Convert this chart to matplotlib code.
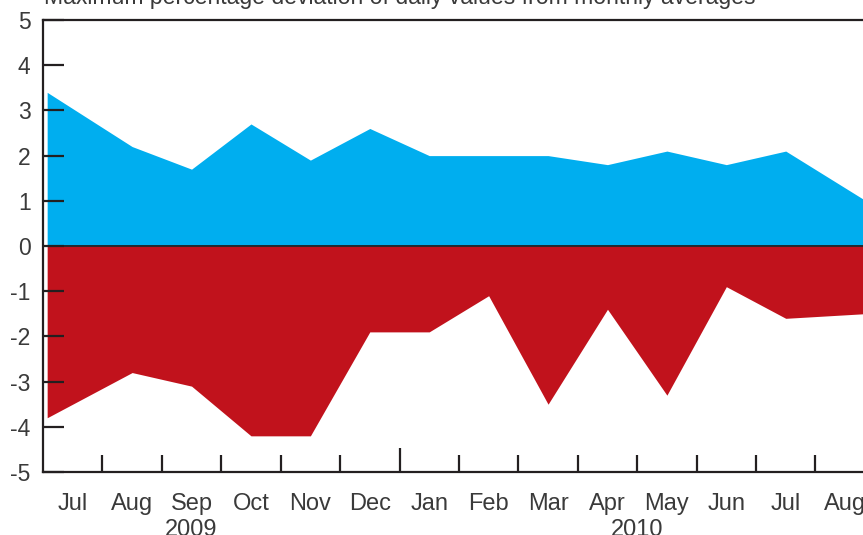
# Maximum percentage deviation of daily values from monthly averages
# area chart, positive deviations in blue, negative in red

import matplotlib.pyplot as plt
import matplotlib.transforms as mtransforms

# month position of each point (0 = start of Jul 2009, points sit mid month)
months_x = [0.07, 1.5, 2.5, 3.5, 4.5, 5.5, 6.5, 7.5, 8.5, 9.5, 10.5, 11.5, 12.5, 13.8]

# maximum upward and downward deviation (%)
upper = [3.4, 2.2, 1.7, 2.7, 1.9, 2.6, 2.0, 2.0, 2.0, 1.8, 2.1, 1.8, 2.1, 1.04]
lower = [-3.8, -2.8, -3.1, -4.2, -4.2, -1.9, -1.9, -1.1, -3.5, -1.4, -3.3, -0.9, -1.6, -1.5]

# axis labels
month_labels = ['Jul', 'Aug', 'Sep', 'Oct', 'Nov', 'Dec', 'Jan',
                'Feb', 'Mar', 'Apr', 'May', 'Jun', 'Jul', 'Aug']
years = ['2009', '2010']
year_x = [2.5, 10.0]
y_ticks = [-5, -4, -3, -2, -1, 0, 1, 2, 3, 4, 5]

plt.rcParams['font.family'] = ['Liberation Sans', 'DejaVu Sans']
text_col = '#3a3a3a'
axis_col = '#231f20'

fig = plt.figure(figsize=(8.63, 5.35), dpi=100)
ax = fig.add_axes([43 / 863, 63 / 535, 820 / 863, 452 / 535])

# the two filled areas
ax.fill_between(months_x, 0, upper, color='#00aeef', linewidth=0)
ax.fill_between(months_x, lower, 0, color='#c1121c', linewidth=0)
ax.axhline(0, color=axis_col, linewidth=1.3)

ax.set_xlim(0, 13.8)
ax.set_ylim(-5, 5)

# frame: left, bottom and top only
ax.spines['right'].set_visible(False)
for s in ['left', 'bottom', 'top']:
    ax.spines[s].set_color(axis_col)
    ax.spines[s].set_linewidth(1.6)

# y axis ticks point inwards
ax.set_yticks(y_ticks)
ax.set_yticklabels([str(v) for v in y_ticks])
ax.tick_params(axis='y', direction='in', length=15, width=1.6, color=axis_col,
               pad=9, labelsize=16.5, labelcolor=text_col)
ax.set_yticks([], minor=True)

# month labels in the middle of each month, tick marks on the boundaries
ax.set_xticks([i + 0.5 for i in range(len(month_labels))])
ax.set_xticklabels(month_labels)
ax.tick_params(axis='x', which='major', length=0, pad=15, labelsize=17,
               labelcolor=text_col)
ax.set_xticks(list(range(1, len(month_labels))), minor=True)
ax.tick_params(axis='x', which='minor', direction='in', length=12, width=1.6,
               color=axis_col)
# longer tick at the year boundary
ax.xaxis.get_minor_ticks()[5].tick1line.set_markersize(17)

# years under the months
trans = mtransforms.blended_transform_factory(ax.transData, ax.transAxes)
for yr, x in zip(years, year_x):
    ax.text(x, -0.104, yr, transform=trans, ha='center', va='top',
            fontsize=17, color=text_col)

# title, partly off the top of the picture
fig.text(44 / 863, 1 - 4 / 535, 'Maximum percentage deviation of daily values from monthly averages',
         ha='left', va='baseline', fontsize=16.6, color=text_col)

fig.savefig('out.png', dpi=100)
